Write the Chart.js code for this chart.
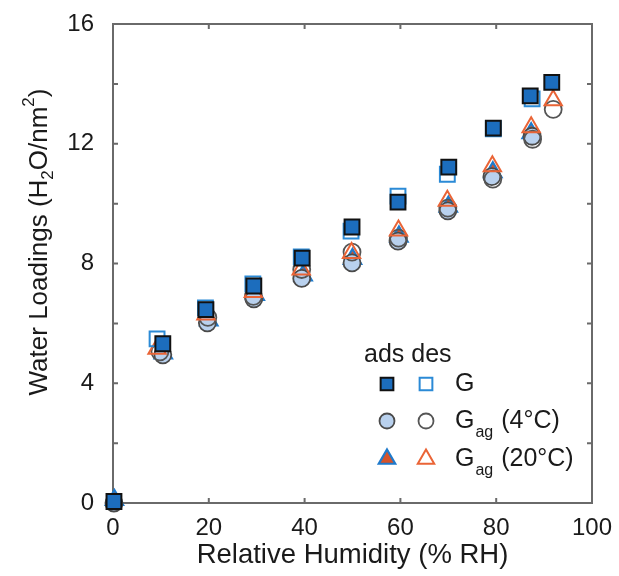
<!DOCTYPE html>
<html>
<head>
<meta charset="utf-8">
<script src="https://cdn.jsdelivr.net/npm/chart.js@4/dist/chart.umd.min.js"></script>
<style>
html,body{margin:0;padding:0;background:#fff;}
#wrap{width:619px;height:576px;position:relative;}
</style>
</head>
<body>
<div id="wrap"><canvas id="c" width="619" height="576"></canvas></div>
<script>
// ---- data ----
const xTicks = [0, 20, 40, 60, 80, 100];
const yTicks = [0, 4, 8, 12, 16];
const yMinorTicks = [2, 6, 10, 14];

const gAdsX = [0.2, 10.4, 19.4, 29.4, 39.5, 49.9, 59.5, 70.1, 79.4, 87.1, 91.6];
const gAdsY = [0.05, 5.32, 6.46, 7.25, 8.18, 9.22, 10.05, 11.22, 12.52, 13.6, 14.05];
const gDesX = [9.2, 19.3, 29.2, 39.3, 49.7, 59.5, 69.8, 79.4, 87.5];
const gDesY = [5.48, 6.52, 7.32, 8.22, 9.08, 10.25, 10.98, 12.5, 13.5];

const g4AdsX = [0.2, 10.4, 19.7, 29.4, 39.4, 49.9, 59.5, 69.9, 79.1, 87.5];
const g4AdsY = [0.0, 4.95, 6.02, 6.82, 7.5, 8.02, 8.75, 9.76, 10.9, 12.25];
const g4DesX = [9.8, 19.8, 29.3, 39.4, 49.9, 59.6, 69.9, 79.3, 87.6, 91.9];
const g4DesY = [5.05, 6.2, 6.9, 7.8, 8.38, 8.85, 9.85, 10.82, 12.15, 13.15];

const g20AdsX = [0.3, 10.5, 20.0, 29.7, 39.7, 50.0, 59.7, 70.0, 79.3, 87.3];
const g20AdsY = [0.1, 5.0, 6.1, 6.95, 7.6, 8.15, 8.9, 9.9, 11.05, 12.35];
const g20DesX = [9.2, 19.4, 29.3, 39.3, 49.8, 59.6, 69.8, 79.2, 87.3, 91.9];
const g20DesY = [5.15, 6.3, 7.05, 7.8, 8.35, 9.1, 10.1, 11.25, 12.55, 13.45];

const xTitle = 'Relative Humidity (% RH)';
const FONT = '"Liberation Sans", Arimo, Arial, sans-serif';

function pts(xs, ys) { return xs.map((v, i) => ({x: v, y: ys[i]})); }

const styles = {
  gAds:  {pointStyle: 'rect', radius: 10.5, bg: '#1c6dbd', border: '#111111', bw: 2},
  gDes:  {pointStyle: 'rect', radius: 10.5, bg: 'rgba(0,0,0,0)', border: '#2b8ad6', bw: 2},
  g4Ads: {pointStyle: 'circle', radius: 8.5, bg: '#b9d1ee', border: '#4a4a4a', bw: 1.8},
  g4Des: {pointStyle: 'circle', radius: 8.5, bg: 'rgba(0,0,0,0)', border: '#555555', bw: 1.8},
  g20Ads:{pointStyle: 'triangle', radius: 10, bg: '#d6532a', border: '#1f7acb', bw: 2.2},
  g20Des:{pointStyle: 'triangle', radius: 10, bg: 'rgba(0,0,0,0)', border: '#ea6436', bw: 2}
};

function ds(label, data, s) {
  return {
    label, data,
    pointStyle: s.pointStyle, pointRadius: s.radius, pointHoverRadius: s.radius,
    pointBackgroundColor: s.bg, pointBorderColor: s.border, pointBorderWidth: s.bw,
    showLine: false, clip: false
  };
}

const AXIS = '#6a6a6a';

const framePlugin = {
  id: 'frame',
  beforeDatasetsDraw(chart) {
    const {ctx, chartArea: a, scales: {x, y}} = chart;
    ctx.save();
    ctx.strokeStyle = AXIS;
    ctx.lineWidth = 2;
    ctx.strokeRect(a.left, a.top, a.right - a.left, a.bottom - a.top);
    ctx.beginPath();
    const L = 5;
    [...yTicks, ...yMinorTicks].forEach(v => {
      const p = y.getPixelForValue(v);
      ctx.moveTo(a.left, p); ctx.lineTo(a.left + L, p);
      ctx.moveTo(a.right, p); ctx.lineTo(a.right - L, p);
    });
    xTicks.forEach(v => {
      const p = x.getPixelForValue(v);
      ctx.moveTo(p, a.bottom); ctx.lineTo(p, a.bottom - L);
      ctx.moveTo(p, a.top); ctx.lineTo(p, a.top + L);
    });
    ctx.stroke();
    ctx.restore();
  },
  afterDraw(chart) {
    const ctx = chart.ctx;
    ctx.save();
    ctx.fillStyle = '#1a1a1a';
    // y title with sub/superscripts
    ctx.translate(40, 242);
    ctx.rotate(-Math.PI / 2);
    const big = '26px ' + FONT, small = '17px ' + FONT;
    const parts = [
      ['Water Loadings (H', big, 0], ['2', small, 8], ['O/nm', big, 0], ['2', small, -11], [')', big, 0]
    ];
    let total = 0;
    parts.forEach(p => { ctx.font = p[1]; total += ctx.measureText(p[0]).width; });
    let cx = -total / 2;
    ctx.textBaseline = 'middle';
    ctx.textAlign = 'left';
    parts.forEach(p => { ctx.font = p[1]; ctx.fillText(p[0], cx, p[2]); cx += ctx.measureText(p[0]).width; });
    ctx.restore();

    // legend
    ctx.save();
    ctx.fillStyle = '#1a1a1a';
    ctx.textBaseline = 'middle';
    ctx.textAlign = 'left';
    ctx.font = '25px ' + FONT;
    ctx.fillText('ads des', 364, 355);
    const rows = [
      [styles.gAds, styles.gDes, 384, 'G', null],
      [styles.g4Ads, styles.g4Des, 421, 'G', ' (4°C)'],
      [styles.g20Ads, styles.g20Des, 459, 'G', ' (20°C)']
    ];
    rows.forEach(r => {
      [[r[0], 387], [r[1], 426]].forEach(([s, px]) => {
        ctx.save();
        ctx.fillStyle = s.bg; ctx.strokeStyle = s.border; ctx.lineWidth = s.bw;
        const rad = s.pointStyle === 'rect' ? 9 : (s.pointStyle === 'circle' ? 7.5 : 9.5);
        Chart.helpers.drawPoint(ctx, {pointStyle: s.pointStyle, radius: rad, rotation: 0, borderWidth: s.bw}, px, r[2]);
        ctx.restore();
      });
      ctx.font = '25px ' + FONT;
      let tx = 455;
      ctx.fillText(r[3], tx, r[2]);
      tx += ctx.measureText(r[3]).width;
      if (r[4]) {
        ctx.font = '16px ' + FONT;
        ctx.fillText('ag', tx + 1, r[2] + 12);
        tx += ctx.measureText('ag').width + 2;
        ctx.font = '25px ' + FONT;
        ctx.fillText(r[4], tx, r[2]);
      }
    });
    ctx.restore();
  }
};

new Chart(document.getElementById('c'), {
  type: 'scatter',
  data: {
    datasets: [
      ds('G ads', pts(gAdsX, gAdsY), styles.gAds),
      ds('G des', pts(gDesX, gDesY), styles.gDes),
      ds('Gag (20°C) des', pts(g20DesX, g20DesY), styles.g20Des),
      ds('Gag (4°C) des', pts(g4DesX, g4DesY), styles.g4Des),
      ds('Gag (4°C) ads', pts(g4AdsX, g4AdsY), styles.g4Ads),
      ds('Gag (20°C) ads', pts(g20AdsX, g20AdsY), styles.g20Ads)
    ]
  },
  options: {
    responsive: false,
    animation: false,
    devicePixelRatio: 1,
    layout: {padding: {top: 24, right: 27, left: 0, bottom: 0}},
    plugins: {legend: {display: false}, tooltip: {enabled: false}},
    scales: {
      x: {
        type: 'linear', min: 0, max: 100,
        afterBuildTicks(s) { s.ticks = xTicks.map(v => ({value: v})); },
        afterFit(s) { s.height = 73; s.paddingLeft = 0; s.paddingRight = 0; },
        grid: {display: false, drawTicks: false},
        border: {display: false},
        ticks: {padding: 11, color: '#1a1a1a', font: {family: FONT, size: 24}, maxRotation: 0},
        title: {display: true, text: xTitle, color: '#1a1a1a', font: {family: FONT, size: 27.5}, padding: {top: 0, bottom: 4}}
      },
      y: {
        type: 'linear', min: 0, max: 16,
        afterBuildTicks(s) { s.ticks = yTicks.map(v => ({value: v})); },
        afterFit(s) { s.width = 113; s.paddingTop = 0; s.paddingBottom = 0; },
        grid: {display: false, drawTicks: false},
        border: {display: false},
        ticks: {padding: 19, color: '#1a1a1a', font: {family: FONT, size: 24}},
        title: {display: false}
      }
    }
  },
  plugins: [framePlugin]
});
</script>
</body>
</html>
